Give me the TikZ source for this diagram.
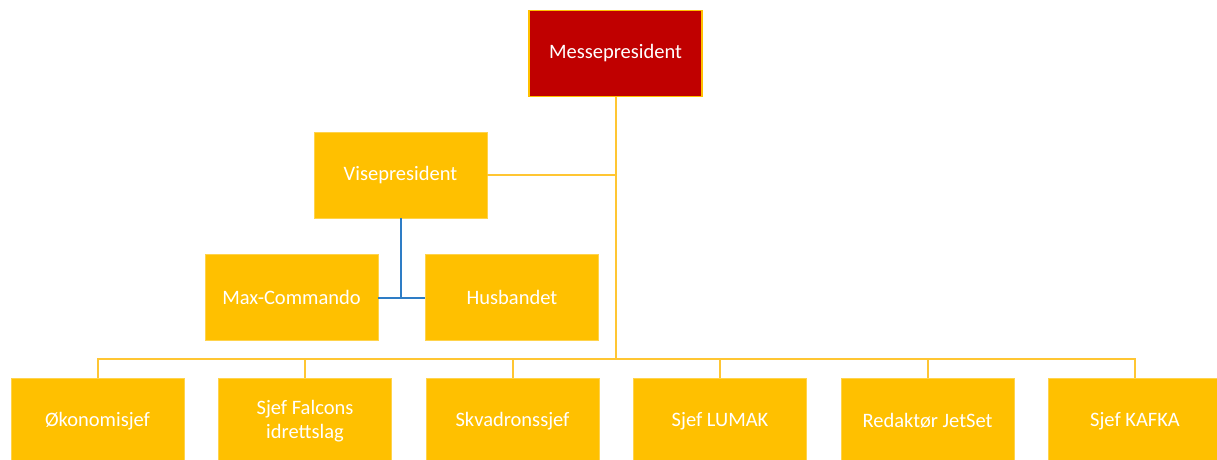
\documentclass[tikz,border=0pt]{standalone}
\usepackage{fontspec}
\setmainfont{Carlito}
\definecolor{boxred}{HTML}{C00000}
\definecolor{boxyellow}{HTML}{FFC000}
\definecolor{lineyellow}{HTML}{FFC633}
\definecolor{lineblue}{HTML}{2E7DC6}
\begin{document}
\begin{tikzpicture}[x=1pt,y=-1pt,
  orgbox/.style={rectangle, fill=boxyellow, draw=boxyellow!70!white, line width=0.8pt,
    minimum width=173pt, minimum height=86pt, inner sep=2pt, text=white,
    font=\fontsize{20.5}{24}\selectfont, align=center},
  topbox/.style={orgbox, fill=boxred, draw=boxyellow, line width=1.2pt},
  yline/.style={draw=lineyellow, line width=2pt},
  bline/.style={draw=lineblue, line width=2pt}]
\useasboundingbox (0,0) rectangle (1217,459);
\clip (0,0) rectangle (1217,459);
\node[topbox] (mp) at (615.5,53.5) {Messepresident};
\node[orgbox] (vp) at (400.5,175) {Visepresident};
\node[orgbox] (mc) at (291.5,297.5) {Max-Commando};
\node[orgbox] (hb) at (512,297.5) {Husbandet};
\node[orgbox] (b1) at (97.5,421) {Økonomisjef};
\node[orgbox] (b2) at (305,421) {Sjef Falcons\\idrettslag};
\node[orgbox] (b3) at (512.5,421) {Skvadronssjef};
\node[orgbox] (b4) at (720,421) {Sjef LUMAK};
\node[orgbox] (b5) at (927.5,421) {Redaktør JetSet};
\node[orgbox] (b6) at (1135,421) {Sjef KAFKA};
\coordinate (bus) at (mp.south |- 0,359);
\draw[yline] (mp.south) -- (bus);
\draw[yline] (vp.east) -- (vp.east -| mp.south);
\foreach \b in {b1,b2,b3,b4,b5,b6} {
  \draw[yline] (bus) -| (\b.north);
}
\coordinate (vj) at (vp.south |- mc.east);
\draw[bline] (vp.south) -- (vj);
\draw[bline] (mc.east) -- (hb.west);
\end{tikzpicture}
\end{document}
